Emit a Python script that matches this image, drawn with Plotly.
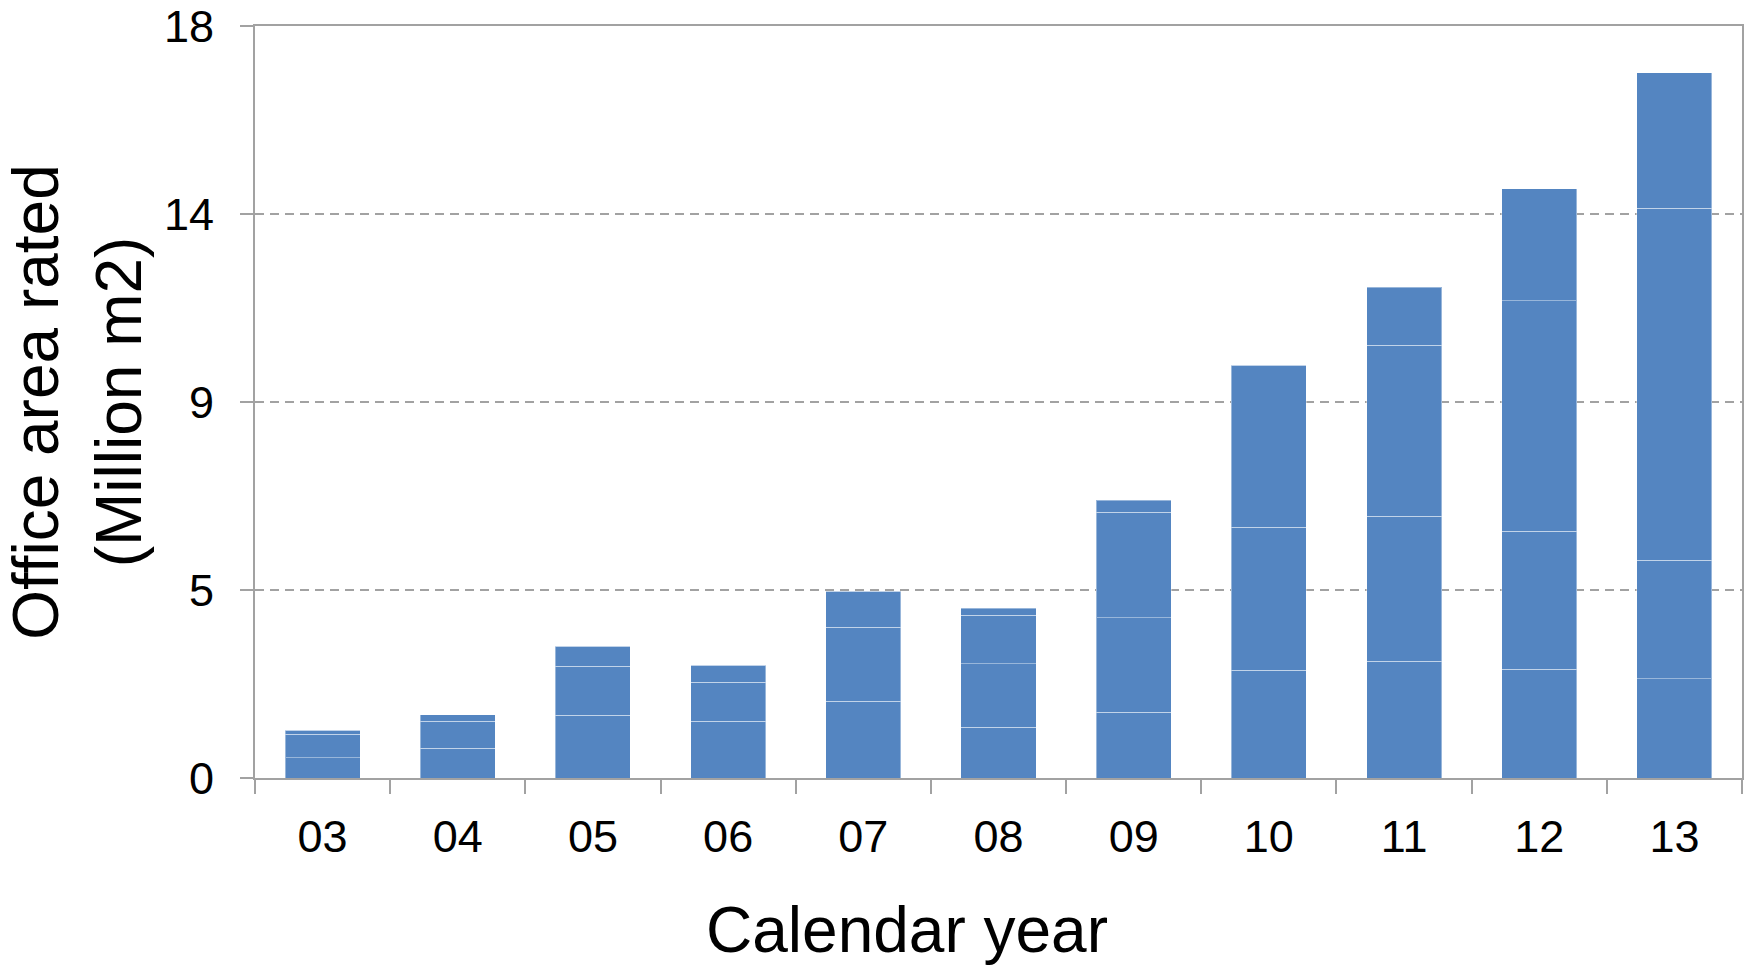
import plotly.graph_objects as go

# calendar years (two-digit labels as on the chart)
years = ["03", "04", "05", "06", "07", "08", "09", "10", "11", "12", "13"]

# stacked segments of each year's bar, bottom to top (million m2)
seg1 = [0.48, 0.71, 1.50, 1.36, 1.84, 1.21, 1.57, 2.58, 2.79, 2.60, 2.37]
seg2 = [0.57, 0.65, 1.17, 0.93, 1.77, 1.52, 2.26, 3.42, 3.47, 3.31, 2.84]
seg3 = [0.09, 0.16, 0.48, 0.41, 0.86, 1.16, 2.53, 3.88, 4.10, 5.51, 8.43]
seg4 = [0.00, 0.00, 0.00, 0.00, 0.00, 0.17, 0.29, 0.00, 1.39, 2.68, 3.24]

# y axis ticks (labels are rounded on the original chart)
y_tickvals = [0, 4.5, 9, 13.5, 18]
y_ticktext = ["0", "5", "9", "14", "18"]

bar_color = "#5485C1"
edge_color = "rgba(255,255,255,0.4)"
axis_color = "#A2A2A2"
font_family = "Liberation Sans, Arial, sans-serif"

fig = go.Figure()
for seg in [seg1, seg2, seg3, seg4]:
    fig.add_trace(go.Bar(
        x=years, y=seg,
        marker=dict(color=bar_color, line=dict(color=edge_color, width=1)),
        showlegend=False,
    ))

fig.update_layout(
    barmode="stack",
    bargap=0.445,
    width=1750, height=966,
    margin=dict(l=255, r=8, t=26, b=188),
    paper_bgcolor="white",
    plot_bgcolor="white",
    font=dict(family=font_family, color="black", size=45),
)

fig.update_xaxes(
    type="category", automargin=False,
    showline=True, linecolor=axis_color, linewidth=2, mirror=True,
    ticks="outside", tickson="boundaries", ticklen=14, tickwidth=2, tickcolor=axis_color,
    tickfont=dict(size=45), ticklabelstandoff=18,
    showgrid=False,
)

fig.update_yaxes(
    range=[0, 18], automargin=False,
    tickvals=y_tickvals, ticktext=y_ticktext,
    showline=True, linecolor=axis_color, linewidth=2, mirror=True,
    ticks="outside", ticklen=13, tickwidth=2, tickcolor=axis_color,
    tickfont=dict(size=45), ticklabelstandoff=17, ticklabeloverflow="allow",
    showgrid=True, gridcolor=axis_color, gridwidth=2, griddash="9px,6px",
    zeroline=False,
    title=dict(text="Office area rated<br>(Million m2)", font=dict(size=64), standoff=4),
)

# x axis title sits left of the plot centre on the original
fig.add_annotation(
    text="Calendar year", font=dict(size=64),
    xref="paper", yref="paper", x=0.4385, y=0,
    xanchor="center", yanchor="middle", yshift=-152,
    showarrow=False,
)

# drop the page's default body margin so the figure fills the window
fig.write_html(
    "out.html",
    config={"displayModeBar": False},
    post_script="document.body.style.margin = '0';",
)
